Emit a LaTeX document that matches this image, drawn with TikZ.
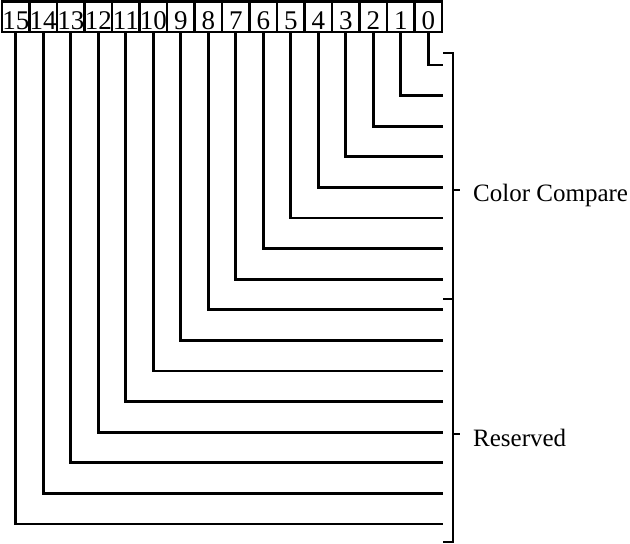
\documentclass[tikz,border=0pt]{standalone}
\usepackage{fontspec}
\setmainfont{Liberation Serif}
\begin{document}
\begin{tikzpicture}[x=1pt,y=1pt,
  cell/.style={draw, line width=2.6pt, minimum width=27.5pt, minimum height=30.5pt,
    inner sep=0pt, outer sep=0pt, text height=25.5pt, text depth=0pt,
    font=\fontsize{27}{27}\selectfont},
  wire/.style={line width=2.8pt},
  brk/.style={line width=2.6pt},
  lbl/.style={anchor=base west, inner sep=0pt, font=\fontsize{25}{25}\selectfont}]
\useasboundingbox (0,0) rectangle (630,-544);
% register cells
\foreach \i in {0,...,15}{
  \node[cell] (b\i) at ({428.25-27.5*\i},-16.75) {\i};
}
% connectors
\foreach \i in {0,...,15}{
  \coordinate (e\i) at (443,{-(65+30.6*\i)});
  \draw[wire] (b\i.south) |- (e\i);
}
% brackets
\coordinate (t0) at (443,-53);
\coordinate (t1) at (453,-53);
\coordinate (s0) at (443,-299);
\coordinate (s1) at (453,-299);
\coordinate (u0) at (443,-542);
\coordinate (u1) at (453,-542);
\coordinate (m1a) at (453,-190);
\coordinate (m1b) at (460,-190);
\coordinate (m2a) at (453,-434);
\coordinate (m2b) at (460,-434);
\draw[brk] (t0) -- (t1) -- (u1) -- (u0);
\draw[brk] (s0) -- (s1);
\draw[brk] (m1a) -- (m1b);
\draw[brk] (m2a) -- (m2b);
% labels
\node[lbl] (cc) at (473,-201.5) {Color Compare};
\node[lbl] (rs) at (473,-446.5) {Reserved};
\end{tikzpicture}
\end{document}
